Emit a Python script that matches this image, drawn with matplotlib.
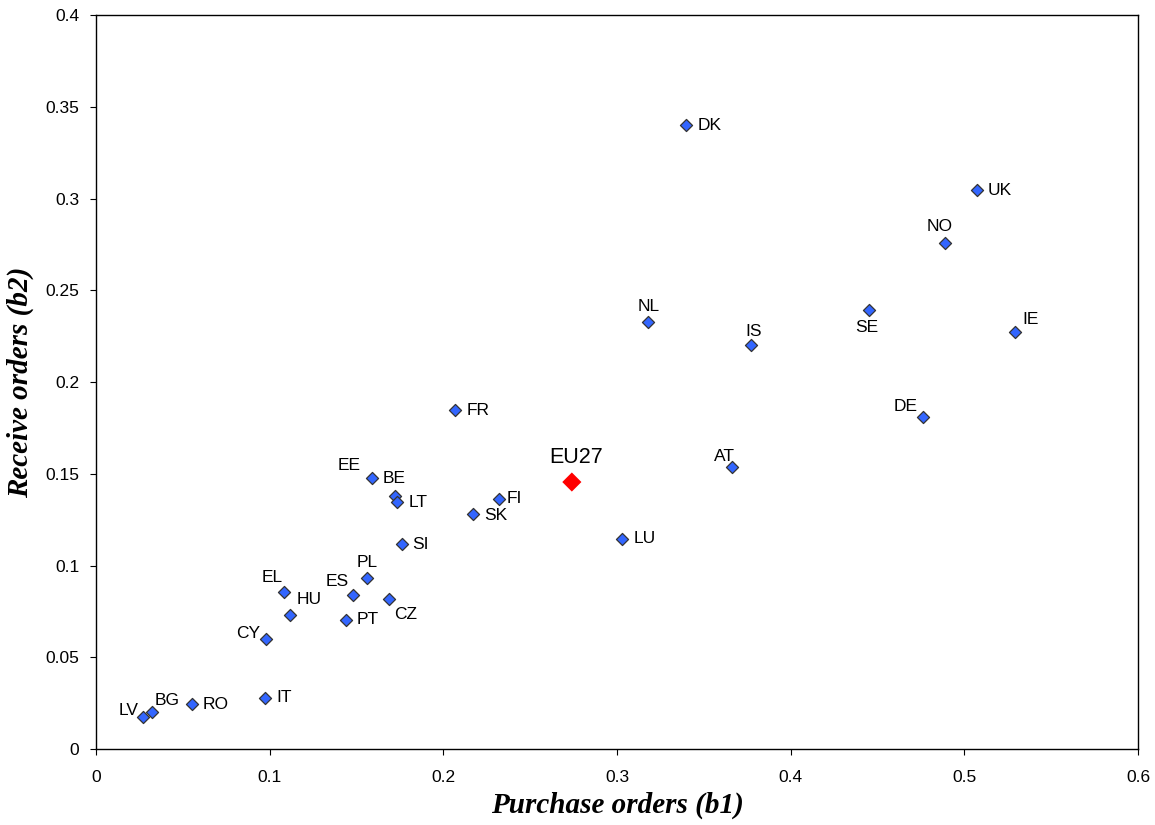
import matplotlib
matplotlib.use("Agg")
import matplotlib.pyplot as plt

# Country values
countries = ["DK", "UK", "NO", "SE", "IE", "NL", "IS", "DE", "AT", "LU", "FR",
             "FI", "SK", "EE", "LT", "LT2", "SI", "PL", "ES", "CZ", "EL", "HU",
             "PT", "CY", "IT", "RO", "BG", "LV"]
b1 = [0.340, 0.507, 0.489, 0.445, 0.529, 0.318, 0.377, 0.476, 0.366, 0.303, 0.207,
      0.232, 0.217, 0.159, 0.172, 0.1735, 0.176, 0.156, 0.148, 0.169, 0.108, 0.112,
      0.144, 0.098, 0.0975, 0.055, 0.032, 0.027]
b2 = [0.340, 0.3045, 0.2755, 0.2395, 0.2275, 0.2325, 0.220, 0.181, 0.1535, 0.1145, 0.1845,
      0.136, 0.128, 0.1475, 0.138, 0.1345, 0.1115, 0.093, 0.084, 0.0815, 0.0855, 0.073,
      0.0705, 0.060, 0.028, 0.0245, 0.020, 0.0175]

eu_label = "EU27"
eu_b1 = 0.274
eu_b2 = 0.1455

# label placement: (dx, dy in pixels, ha, va, text)
placement = {
    "DK": (11, 0, "left", "center", "DK"),
    "UK": (11, 0, "left", "center", "UK"),
    "NO": (-6, 9, "center", "bottom", "NO"),
    "SE": (-2, -10, "center", "top", "SE"),
    "IE": (8, 12, "left", "center", "IE"),
    "NL": (0, 8, "center", "bottom", "NL"),
    "IS": (3, 6, "center", "bottom", "IS"),
    "DE": (-5, 10, "right", "center", "DE"),
    "AT": (3, 3, "right", "bottom", "AT"),
    "LU": (11, 0, "left", "center", "LU"),
    "FR": (11, 0, "left", "center", "FR"),
    "FI": (8, 1, "left", "center", "FI"),
    "SK": (11, -1, "left", "center", "SK"),
    "EE": (-11, 5, "right", "bottom", "EE"),
    "LT": None,
    "LT2": (11, 0, "left", "center", "LT"),
    "SI": (11, 0, "left", "center", "SI"),
    "PL": (0, 8, "center", "bottom", "PL"),
    "ES": (-4, 6, "right", "bottom", "ES"),
    "CZ": (5, -8, "left", "top", "CZ"),
    "EL": (-1, 7, "right", "bottom", "EL"),
    "HU": (6, 8, "left", "bottom", "HU"),
    "PT": (11, 0, "left", "center", "PT"),
    "CY": (-6, 5, "right", "center", "CY"),
    "IT": (11, 0, "left", "center", "IT"),
    "RO": (11, 0, "left", "center", "RO"),
    "BG": (3, 12, "left", "center", "BG"),
    "LV": (-4, 6, "right", "center", "LV"),
}
# BE shares the EE point
extra = {"EE": (11, 0, "left", "center", "BE")}

plt.rcParams["font.family"] = ["Liberation Sans", "DejaVu Sans"]

fig = plt.figure(figsize=(11.55, 8.25), dpi=100)
ax = fig.add_axes([0.0831, 0.0921, 0.9022, 0.8897])

ax.scatter(b1, b2, marker="D", s=38, color="#3366FF", edgecolor="#333333",
           linewidth=0.9, zorder=3)
ax.scatter([eu_b1], [eu_b2], marker="D", s=95, color="#FF0000", edgecolor="none",
           zorder=3)

for c, x, y in zip(countries, b1, b2):
    for p in (placement.get(c), extra.get(c)):
        if p is None:
            continue
        dx, dy, ha, va, txt = p
        ax.annotate(txt, (x, y), xytext=(dx, dy), textcoords="offset pixels",
                    ha=ha, va=va, fontsize=12.5)

ax.annotate(eu_label, (eu_b1, eu_b2), xytext=(4, 14), textcoords="offset pixels",
            ha="center", va="bottom", fontsize=15.5)

ax.set_xlim(0, 0.6)
ax.set_ylim(0, 0.4)
ax.set_xticks([0, 0.1, 0.2, 0.3, 0.4, 0.5, 0.6])
ax.set_xticklabels(["0", "0.1", "0.2", "0.3", "0.4", "0.5", "0.6"])
ax.set_yticks([0, 0.05, 0.1, 0.15, 0.2, 0.25, 0.3, 0.35, 0.4])
ax.set_yticklabels(["0", "0.05", "0.1", "0.15", "0.2", "0.25", "0.3", "0.35", "0.4"])
ax.tick_params(direction="out", length=4, width=0.8, labelsize=12.5, pad=8)
ax.tick_params(axis="x", pad=11)
for s in ax.spines.values():
    s.set_linewidth(1.0)

ax.set_xlabel("Purchase orders (b1)", fontsize=21, fontweight="bold", style="italic",
              family="Liberation Serif", labelpad=5)
ax.set_ylabel("Receive orders (b2)", fontsize=21, fontweight="bold", style="italic",
              family="Liberation Serif", labelpad=8)

fig.savefig("out.png", dpi=100)
